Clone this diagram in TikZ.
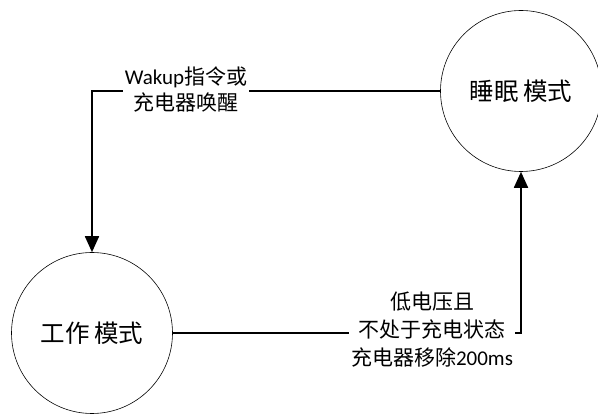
\documentclass[tikz,border=0pt]{standalone}
\usepackage{fontspec}
\setmainfont{Carlito}
\newfontfamily\cjk{Noto Sans CJK SC}
\usetikzlibrary{arrows.meta}
\tikzset{
  state/.style={circle, draw=black, line width=0.6pt, fill=white, minimum size=161pt, inner sep=0pt, font=\cjk\fontsize{24.5}{28}\selectfont},
  conn/.style={line width=1.8pt, -{Triangle[length=16pt,width=14pt]}},
  lbl/.style={fill=white, align=center, inner sep=2pt, font=\fontsize{21}{26}\selectfont}
}
\begin{document}
\begin{tikzpicture}[x=1pt,y=1pt]
\useasboundingbox (0,0) rectangle (598,-414);
\node[state] (sleep) at (521,-91) {睡眠\,模式};
\node[state] (work) at (92,-333) {工作\,模式};
\coordinate (c1) at (work.north |- sleep.west);
\coordinate (c2) at (sleep.south |- work.east);
\draw[conn] (sleep.west) -- (c1) -- (work.north);
\draw[conn] (work.east) -- (c2) -- (sleep.south);
\node[lbl] (l1) at (186,-90) {Wakup{\cjk 指令或}\\{\cjk 充电器唤醒}};
\node[lbl, font=\fontsize{21}{28}\selectfont] (l2) at (432,-330) {{\cjk 低电压且}\\{\cjk 不处于充电状态}\\{\cjk 充电器移除}200ms};
\end{tikzpicture}
\end{document}
